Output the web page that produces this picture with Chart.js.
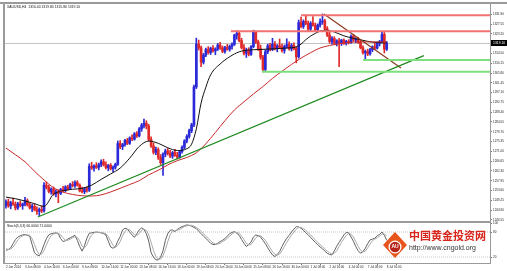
<!DOCTYPE html>
<html>
<head>
<meta charset="utf-8">
<script src="https://cdn.jsdelivr.net/npm/chart.js@4.4.1/dist/chart.umd.min.js"></script>
<style>
html,body{margin:0;padding:0;background:#fff;overflow:hidden;}
canvas{display:block;}
</style>
</head>
<body>
<canvas id="c" width="507" height="271"></canvas>
<script>
// ---------------- DATA ----------------
const symbolTitle = 'XAUUSD,H4  1316.40 1319.80 1315.80 1319.10';
const stochTitle = 'Stoch(5,3,3) 60.0000 71.0000';

const openP = [1247.0,1248.6,1246.8,1248.2,1247.5,1245.9,1247.8,1246.9,1247.6,1249.1,1247.3,1245.9,1246.6,1245.1,1244.4,1245.2,1244.6,1256.0,1255.1,1253.2,1254.3,1252.1,1253.0,1252.4,1254.1,1253.6,1255.2,1254.5,1256.3,1255.8,1257.2,1256.0,1253.5,1253.1,1254.4,1253.8,1264.4,1263.6,1264.6,1263.9,1265.1,1266.4,1265.0,1263.8,1264.9,1263.3,1264.0,1265.3,1274.5,1273.1,1274.0,1275.9,1274.6,1277.0,1276.4,1278.8,1277.9,1281.0,1282.6,1283.5,1282.2,1276.3,1273.4,1270.6,1271.8,1268.3,1266.0,1269.8,1271.2,1270.1,1268.9,1270.5,1269.3,1268.4,1270.9,1272.8,1275.6,1277.7,1280.2,1282.8,1299.6,1318.6,1317.0,1310.6,1313.8,1316.2,1314.9,1316.8,1315.6,1316.4,1318.2,1316.9,1315.4,1317.1,1316.3,1317.6,1318.5,1322.6,1323.4,1320.2,1317.1,1314.6,1316.0,1314.1,1317.5,1323.9,1319.6,1316.6,1312.8,1307.4,1315.2,1317.9,1316.3,1318.6,1316.8,1317.9,1317.2,1315.8,1317.6,1318.4,1316.5,1318.0,1316.7,1313.0,1328.2,1326.5,1328.7,1327.8,1325.3,1327.9,1326.9,1325.0,1327.1,1328.5,1328.9,1325.5,1322.6,1319.8,1321.1,1319.0,1320.1,1319.2,1320.4,1319.1,1319.8,1319.3,1322.1,1320.4,1320.9,1319.4,1317.0,1314.8,1315.4,1314.3,1316.2,1317.4,1316.8,1319.0,1319.7,1322.9,1316.4];
const highP = [1249.5,1249.8,1248.9,1250.3,1248.6,1248.4,1249.0,1248.1,1250.6,1249.9,1248.0,1247.5,1247.8,1246.4,1245.9,1246.8,1257.2,1257.4,1256.0,1254.8,1255.2,1253.9,1254.0,1254.6,1255.5,1255.8,1256.0,1256.9,1257.6,1257.9,1258.0,1256.6,1255.2,1255.0,1255.3,1265.5,1266.2,1265.0,1266.0,1265.8,1267.3,1267.5,1266.4,1265.2,1265.6,1264.6,1265.8,1275.6,1275.8,1274.6,1276.4,1276.8,1277.5,1278.3,1279.4,1279.8,1281.6,1283.4,1285.3,1284.6,1283.0,1277.5,1274.8,1272.9,1272.6,1269.6,1270.4,1272.0,1272.3,1271.5,1271.0,1271.9,1270.6,1271.4,1273.5,1276.2,1278.4,1280.9,1283.5,1300.4,1321.3,1320.4,1317.8,1314.5,1316.9,1317.5,1317.3,1318.0,1317.0,1318.9,1319.4,1317.8,1317.6,1318.5,1318.2,1319.2,1323.0,1324.6,1324.0,1321.2,1318.4,1316.8,1317.0,1318.0,1324.8,1324.5,1320.4,1318.2,1313.6,1316.0,1318.6,1319.0,1321.2,1319.8,1318.4,1320.9,1318.6,1318.2,1321.0,1319.6,1318.8,1319.2,1317.4,1329.3,1330.6,1329.4,1331.6,1328.9,1328.6,1330.8,1328.0,1327.6,1329.8,1332.0,1329.6,1326.4,1323.8,1322.0,1321.9,1320.6,1321.2,1320.8,1321.0,1320.3,1320.6,1322.8,1322.9,1321.5,1321.6,1320.2,1317.9,1316.0,1316.4,1316.8,1317.9,1319.0,1319.6,1320.3,1324.0,1323.8,1319.8];
const lowP = [1245.8,1246.2,1245.5,1247.0,1245.0,1245.2,1246.4,1245.3,1246.8,1246.7,1245.4,1244.2,1244.6,1243.0,1242.5,1243.8,1244.0,1254.3,1252.6,1252.0,1251.5,1250.8,1248.2,1251.8,1253.0,1253.1,1253.8,1254.0,1255.2,1255.0,1255.6,1253.0,1252.6,1252.2,1252.9,1253.2,1263.0,1262.2,1263.4,1262.8,1264.2,1264.5,1263.2,1262.4,1262.8,1261.9,1263.1,1264.8,1272.2,1271.8,1273.3,1274.0,1274.1,1275.8,1276.0,1277.2,1277.4,1279.9,1281.4,1281.0,1275.6,1272.8,1269.8,1269.5,1267.4,1265.2,1260.3,1268.6,1269.4,1268.2,1267.9,1268.8,1267.6,1268.0,1270.2,1272.1,1274.8,1276.9,1279.3,1282.0,1298.9,1316.0,1308.6,1309.8,1313.0,1314.2,1314.0,1315.1,1313.9,1315.8,1316.3,1314.8,1314.6,1315.9,1315.5,1316.4,1318.0,1320.8,1319.6,1316.5,1313.8,1312.7,1313.4,1313.6,1317.0,1318.9,1315.8,1311.9,1306.3,1306.8,1314.4,1315.6,1315.7,1316.0,1315.2,1316.9,1315.0,1314.6,1316.8,1315.9,1315.6,1316.1,1310.3,1312.4,1325.8,1325.6,1327.2,1324.6,1324.5,1326.6,1324.3,1324.2,1326.1,1327.4,1324.8,1322.0,1319.0,1318.6,1318.4,1317.8,1308.6,1318.0,1318.5,1318.2,1318.7,1318.9,1319.8,1319.2,1318.9,1316.5,1314.2,1311.6,1313.5,1313.7,1315.3,1316.2,1316.4,1317.8,1319.2,1314.7,1315.8];
const closeP = [1248.6,1246.8,1248.2,1247.5,1245.9,1247.8,1246.9,1247.6,1249.1,1247.3,1245.9,1246.6,1245.1,1244.4,1245.2,1244.6,1256.0,1255.1,1253.2,1254.3,1252.1,1253.0,1252.4,1254.1,1253.6,1255.2,1254.5,1256.3,1255.8,1257.2,1256.0,1253.5,1253.1,1254.4,1253.8,1264.4,1263.6,1264.6,1263.9,1265.1,1266.4,1265.0,1263.8,1264.9,1263.3,1264.0,1265.3,1274.5,1273.1,1274.0,1275.9,1274.6,1277.0,1276.4,1278.8,1277.9,1281.0,1282.6,1283.5,1282.2,1276.3,1273.4,1270.6,1271.8,1268.3,1266.0,1269.8,1271.2,1270.1,1268.9,1270.5,1269.3,1268.4,1270.9,1272.8,1275.6,1277.7,1280.2,1282.8,1299.6,1318.6,1317.0,1310.6,1313.8,1316.2,1314.9,1316.8,1315.6,1316.4,1318.2,1316.9,1315.4,1317.1,1316.3,1317.6,1318.5,1322.6,1323.4,1320.2,1317.1,1314.6,1316.0,1314.1,1317.5,1323.9,1319.6,1316.6,1312.8,1307.4,1315.2,1317.9,1316.3,1318.6,1316.8,1317.9,1317.2,1315.8,1317.6,1318.4,1316.5,1318.0,1316.7,1313.0,1328.2,1326.5,1328.7,1327.8,1325.3,1327.9,1326.9,1325.0,1327.1,1328.5,1328.9,1325.5,1322.6,1319.8,1321.1,1319.0,1320.1,1319.2,1320.4,1319.1,1319.8,1319.3,1322.1,1320.4,1320.9,1319.4,1317.0,1314.8,1315.4,1314.3,1316.2,1317.4,1316.8,1319.0,1319.7,1322.9,1316.4,1319.1];

const maFastBars = [0,4,8,12,16,20,24,28,32,36,40,44,48,52,56,60,64,68,72,76,78,80,82,84,86,90,94,98,102,106,110,114,118,122,124,126,130,134,138,142,146,150,154,158,160];
const maFastVals = [1250.7,1250.0,1249.0,1247.8,1246.6,1252.0,1253.5,1254.2,1254.6,1256.0,1258.6,1261.0,1263.6,1268.0,1273.2,1275.6,1274.6,1272.6,1271.4,1272.2,1274.2,1281.0,1292.5,1299.5,1305.0,1309.8,1313.0,1315.2,1316.0,1316.2,1316.4,1316.6,1316.9,1317.4,1318.6,1320.6,1323.4,1324.8,1324.0,1322.3,1321.2,1320.3,1319.5,1319.2,1319.1];
const maSlowBars = [0,4,8,12,16,20,24,28,32,36,40,44,48,52,56,60,64,68,72,76,80,84,88,92,96,100,104,108,112,116,120,124,128,132,136,140,144,148,152,156,160];
const maSlowVals = [1272.5,1269.5,1266.4,1262.2,1258.3,1254.9,1252.9,1251.9,1251.3,1251.2,1251.7,1253.0,1254.6,1256.3,1258.0,1260.6,1262.6,1265.0,1266.9,1268.3,1270.4,1274.4,1279.4,1284.6,1289.4,1293.0,1296.5,1299.8,1303.4,1306.6,1309.6,1312.4,1314.8,1316.9,1318.0,1318.8,1319.3,1319.6,1319.6,1319.6,1319.6];

const stochMain = [36,38,42,52,62,68,71,73,74,72,70,50,30,25,23,34,50,64,73,76,77,78,76,64,57,59,63,66,69,72,60,45,34,47,65,77,78,79,80,79,78,76,73,58,44,41,45,58,69,85,89,87,80,73,67,76,85,90,86,76,58,30,20,13,13,20,35,60,76,84,85,81,86,90,93,95,97,96,94,91,88,82,76,70,65,59,53,50,50,53,57,60,64,70,76,79,81,77,72,62,53,45,50,56,68,73,71,68,60,52,42,33,25,21,26,33,45,56,65,72,80,87,93,92,89,84,78,73,67,61,55,50,44,40,34,29,26,25,35,46,55,64,73,79,78,68,58,45,35,29,33,41,52,61,63,65,71,74,80,72,60];
const stochSignal = [40,38,39,44,52,61,67,71,73,73,72,64,50,35,26,27,36,49,62,71,75,77,77,73,66,60,60,63,66,69,67,59,46,42,49,63,73,78,79,79,79,78,76,69,58,48,43,48,57,71,81,87,85,80,73,72,76,84,87,84,73,55,36,21,15,15,23,38,57,73,82,83,84,86,90,93,95,96,96,94,91,87,82,76,70,65,59,54,51,51,53,57,60,65,70,75,79,79,77,70,62,53,49,50,58,66,71,71,66,60,51,42,33,26,24,27,35,45,55,64,72,80,87,91,91,88,84,78,73,67,61,55,50,45,39,34,30,27,29,35,45,55,64,72,77,75,68,57,46,36,32,34,42,51,59,63,66,70,75,75,71];

const priceTicks = [1240.55,1244.90,1249.25,1253.60,1257.95,1262.30,1266.65,1271.00,1275.35,1279.70,1284.05,1288.40,1292.75,1297.10,1301.45,1305.80,1310.15,1314.50,1318.85,1323.20,1327.55,1331.90];
const stochTicks = [100, 80, 20];
const stochLevels = [80, 20];
const timeTickBars = [0,8,16,24,32,40,48,56,64,72,80,88,96,104,112,120,128,136,144,152,160];
const timeTickLabels = ['2 Jun 2014','3 Jun 08:00','4 Jun 16:00','6 Jun 00:00','9 Jun 08:00','10 Jun 16:00','12 Jun 00:00','13 Jun 08:00','16 Jun 16:00','18 Jun 00:00','19 Jun 08:00','20 Jun 16:00','24 Jun 00:00','25 Jun 08:00','26 Jun 16:00','30 Jun 00:00','1 Jul 08:00','2 Jul 16:00','4 Jul 00:00','7 Jul 08:00','8 Jul 16:00'];

const resistanceLevels = [1331.4, 1324.3];
const resistanceFromBar = [124, 94.5];
const supportLevels = [1311.6, 1306.4];
const supportFromBar = [150, 107.6];
const upTrend = [[13.4, 1241.9], [175.6, 1313.5]];
const downTrend = [[133.6, 1332.0], [166, 1308.0]];

// ---------------- CHART ----------------
const lens = [openP.length, highP.length, lowP.length, closeP.length, stochMain.length, stochSignal.length];
if (new Set(lens).size !== 1) throw new Error('length mismatch ' + lens.join(','));
if (maFastBars.length !== maFastVals.length || maSlowBars.length !== maSlowVals.length) throw new Error('ma mismatch');

const X_MIN = -0.4, X_MAX = 203.4;
const UP = '#2a2ad8', DOWN = '#e02a2a';
const bars = closeP.map((_, i) => i);
const candleColor = c => closeP[c.dataIndex] >= openP[c.dataIndex] ? UP : DOWN;
const FONT = '"Liberation Sans", Arial, sans-serif';
Chart.defaults.font.family = FONT;

const hLine = (lvl, from, color) => ({
  type: 'line', data: [{x: from, y: lvl}, {x: X_MAX, y: lvl}], yAxisID: 'y',
  borderColor: color, borderWidth: 2, pointRadius: 0, order: 0
});

const overlay = {
  id: 'overlay',
  beforeDatasetsDraw(chart) {
    const {ctx, chartArea: a, scales: {y}} = chart;
    const py = Math.round(y.getPixelForValue(closeP[closeP.length - 1])) + 0.5;
    ctx.save();
    ctx.strokeStyle = '#c4c4c4'; ctx.lineWidth = 1;
    ctx.beginPath(); ctx.moveTo(a.left, py); ctx.lineTo(a.right, py); ctx.stroke();
    ctx.restore();
  },
  afterDraw(chart) {
    const {ctx, chartArea: a, scales: {y, yS}} = chart;
    ctx.save();
    ctx.fillStyle = '#9a9a9a';
    ctx.fillRect(0, a.top - 2, chart.width, 2);
    ctx.fillRect(a.left - 2, a.top, 2, a.bottom - a.top + 1);
    ctx.fillRect(a.right, a.top, 1, a.bottom - a.top);
    ctx.fillRect(a.left, y.bottom - 1, a.right - a.left, 2);
    ctx.fillRect(a.left, a.bottom, a.right - a.left + 1, 1);
    // bid label
    const last = closeP[closeP.length - 1];
    const py = Math.round(y.getPixelForValue(last));
    ctx.fillStyle = '#000';
    ctx.fillRect(a.right + 1, py - 3, chart.width - a.right - 1, 6);
    ctx.fillStyle = '#fff';
    ctx.font = '3.4px ' + FONT;
    ctx.textBaseline = 'middle'; ctx.textAlign = 'left';
    ctx.fillText(last.toFixed(2), a.right + 3, py);
    // titles
    ctx.fillStyle = '#111';
    ctx.textBaseline = 'top';
    ctx.fillText(symbolTitle, a.left + 2, a.top + 1);
    ctx.fillText(stochTitle, a.left + 2, yS.top + 2);
    // watermark logo
    const lx = 395, ly = 245;
    ctx.fillStyle = '#e9541d';
    ctx.beginPath(); ctx.moveTo(lx, ly - 13); ctx.lineTo(lx + 12, ly); ctx.lineTo(lx, ly + 13); ctx.lineTo(lx - 12, ly); ctx.closePath(); ctx.fill();
    ctx.fillStyle = '#fff';
    ctx.beginPath(); ctx.arc(lx, ly + 2, 6.5, 0, Math.PI * 2); ctx.fill();
    ctx.fillStyle = '#b8231a';
    ctx.beginPath(); ctx.arc(lx, ly + 2, 5.2, 0, Math.PI * 2); ctx.fill();
    ctx.fillStyle = '#fff'; ctx.font = 'bold 5px ' + FONT; ctx.textAlign = 'center'; ctx.textBaseline = 'middle';
    ctx.fillText('AU', lx, ly + 2);
    ctx.textAlign = 'left'; ctx.textBaseline = 'alphabetic';
    ctx.fillStyle = '#d8261c'; ctx.font = 'bold 11px "Noto Sans CJK SC"';
    ctx.fillText('中国黄金投资网', 409, 240);
    ctx.fillStyle = '#333'; ctx.font = '7px ' + FONT;
    ctx.fillText('http://www.cngold.org', 409, 250);
    ctx.restore();
  }
};

new Chart(document.getElementById('c'), {
  type: 'bar',
  data: {
    datasets: [
      {type: 'bar', data: bars.map(i => ({x: i, y: [lowP[i], highP[i]]})), backgroundColor: candleColor,
       barThickness: 1, stack: 'candle', yAxisID: 'y', order: 3},
      {type: 'bar', data: bars.map(i => ({x: i, y: [openP[i], closeP[i]]})), backgroundColor: candleColor,
       barThickness: 2, stack: 'candle', yAxisID: 'y', order: 2, minBarLength: 1},
      {type: 'line', data: maSlowBars.map((b, k) => ({x: b, y: maSlowVals[k]})), yAxisID: 'y',
       borderColor: '#c8282a', borderWidth: 1, pointRadius: 0, cubicInterpolationMode: 'monotone', order: 1},
      {type: 'line', data: maFastBars.map((b, k) => ({x: b, y: maFastVals[k]})), yAxisID: 'y',
       borderColor: '#111', borderWidth: 1, pointRadius: 0, cubicInterpolationMode: 'monotone', order: 1},
      hLine(resistanceLevels[0], resistanceFromBar[0], '#f07272'),
      hLine(resistanceLevels[1], resistanceFromBar[1], '#f07272'),
      hLine(supportLevels[0], supportFromBar[0], '#7de07d'),
      hLine(supportLevels[1], supportFromBar[1], '#7de07d'),
      {type: 'line', data: upTrend.map(p => ({x: p[0], y: p[1]})), yAxisID: 'y',
       borderColor: '#1f8a1f', borderWidth: 1.2, pointRadius: 0, order: 0},
      {type: 'line', data: downTrend.map(p => ({x: p[0], y: p[1]})), yAxisID: 'y',
       borderColor: '#8e3a1e', borderWidth: 1.2, pointRadius: 0, order: 0},
      ...stochLevels.map(l => ({type: 'line', data: [{x: X_MIN, y: l}, {x: X_MAX, y: l}], yAxisID: 'yS',
       borderColor: '#c8c8c8', borderWidth: 1, borderDash: [1, 1], pointRadius: 0, order: 5})),
      {type: 'line', data: stochSignal.map((v, i) => ({x: i, y: v})), yAxisID: 'yS',
       borderColor: '#a8a8a8', borderWidth: 1, pointRadius: 0, order: 4},
      {type: 'line', data: stochMain.map((v, i) => ({x: i, y: v})), yAxisID: 'yS',
       borderColor: '#606060', borderWidth: 1, pointRadius: 0, order: 4}
    ]
  },
  options: {
    responsive: false, animation: false, devicePixelRatio: 1,
    layout: {padding: {left: 5, top: 4, right: 0, bottom: 0}},
    plugins: {legend: {display: false}, tooltip: {enabled: false}},
    scales: {
      x: {
        type: 'linear', min: X_MIN, max: X_MAX, offset: false,
        grid: {display: true, drawOnChartArea: false, tickLength: 2, color: '#777'},
        border: {display: false},
        afterBuildTicks: s => { s.ticks = timeTickBars.map(v => ({value: v})); },
        afterFit: s => { s.height = 8; },
        ticks: {autoSkip: false, maxRotation: 0, align: 'start', padding: 0, color: '#222',
          font: {size: 3}, callback: v => timeTickLabels[timeTickBars.indexOf(v)]}
      },
      y: {
        type: 'linear', position: 'right', stack: 'pane', stackWeight: 218, stacked: false,
        min: 1239.66, max: 1336.43,
        grid: {display: true, drawOnChartArea: false, tickLength: 2, color: '#777'},
        border: {display: false},
        afterBuildTicks: s => { s.ticks = priceTicks.map(v => ({value: v})); },
        afterFit: s => { s.width = 17; },
        ticks: {autoSkip: false, padding: 1, color: '#222', font: {size: 3}, callback: v => Number(v).toFixed(2)}
      },
      yS: {
        type: 'linear', position: 'right', stack: 'pane', stackWeight: 41, stacked: false,
        min: 5.6, max: 104,
        grid: {display: true, drawOnChartArea: false, tickLength: 2, color: '#777'},
        border: {display: false},
        afterBuildTicks: s => { s.ticks = stochTicks.map(v => ({value: v})); },
        afterFit: s => { s.width = 17; },
        ticks: {autoSkip: false, padding: 1, color: '#222', font: {size: 3}, callback: v => String(v)}
      }
    }
  },
  plugins: [overlay]
});
</script>
</body>
</html>
